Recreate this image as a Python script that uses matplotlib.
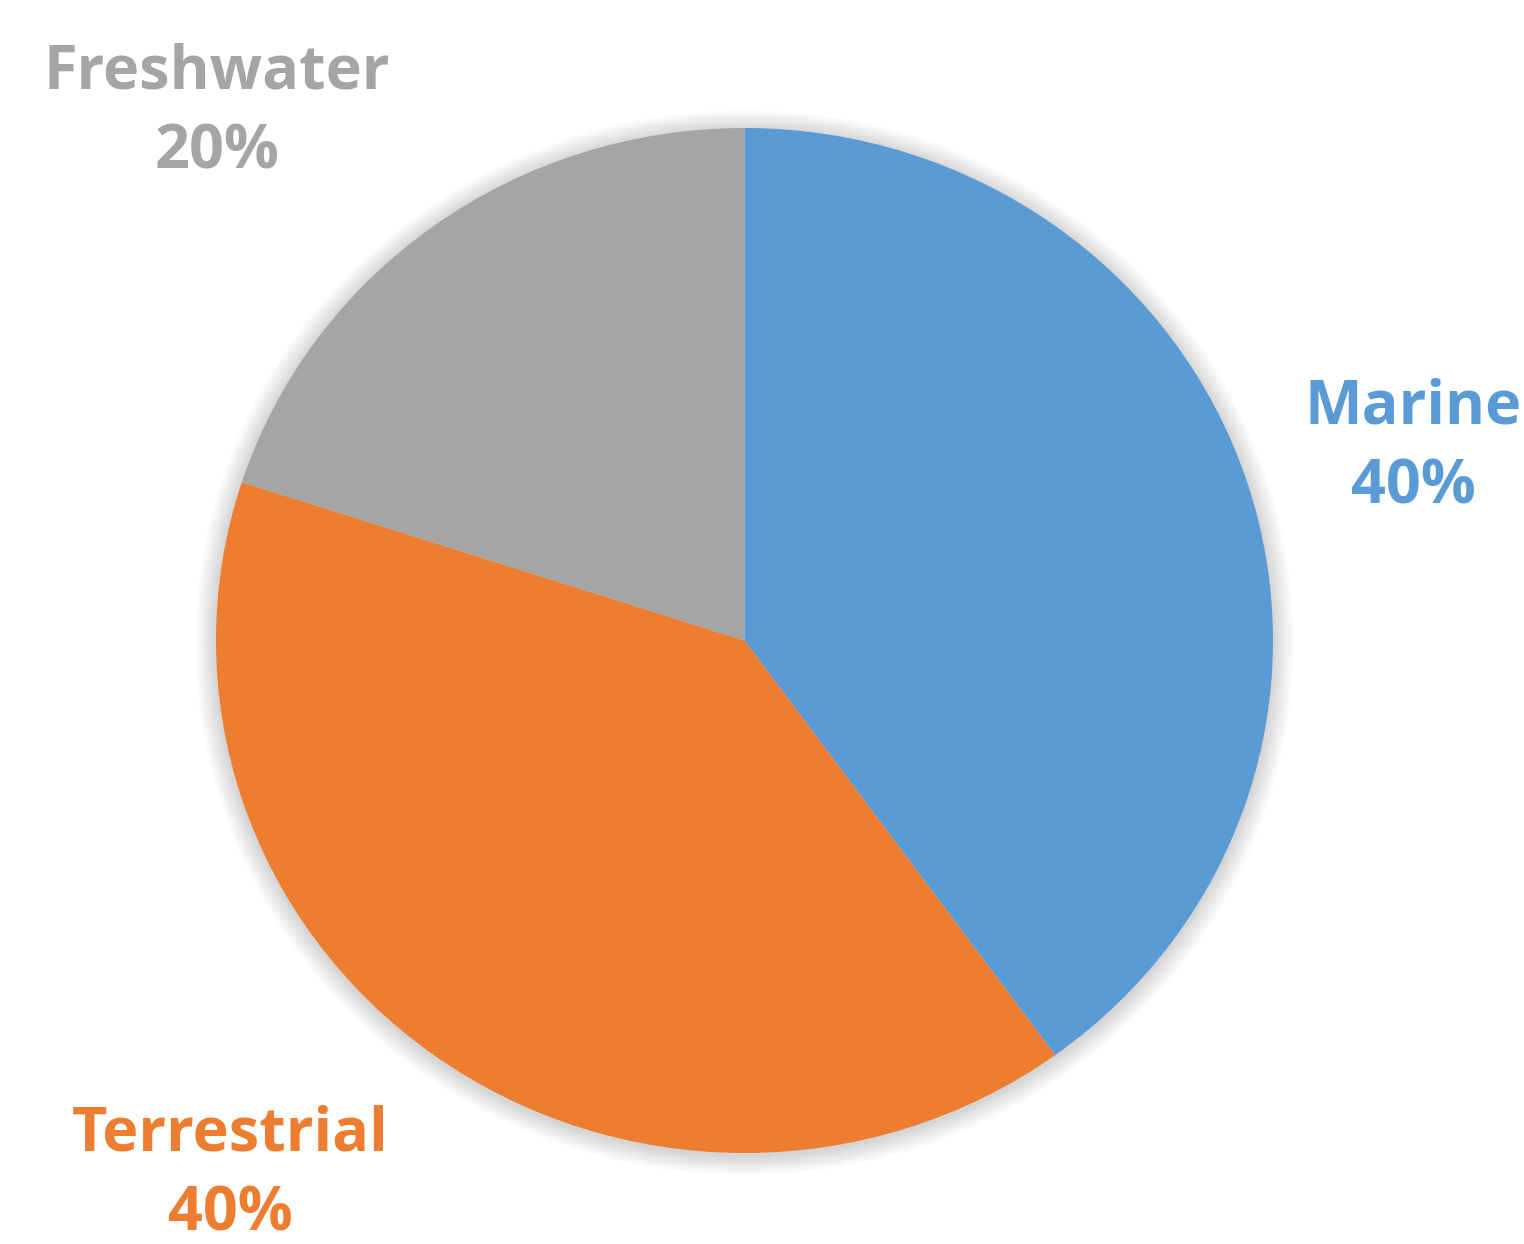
import matplotlib.pyplot as plt
from matplotlib.patches import Ellipse

# habitat shares
habitats = ['Marine', 'Terrestrial', 'Freshwater']
shares = [40, 40, 20]
colors = ['#5B9BD5', '#ED7D31', '#A5A5A5']

W, H = 1524, 1244
fig = plt.figure(figsize=(W / 100, H / 100), dpi=100)

# pie box in image pixels (slightly wider than tall, as in the picture)
left, top, right, bottom = 216, 128, 1273, 1153
ax = fig.add_axes([left / W, 1 - bottom / H, (right - left) / W, (bottom - top) / H])

# soft shadow behind the pie
for i in range(14):
    s = 1 + 0.0028 * (14 - i)
    ax.add_patch(Ellipse((0, -0.004), 2 * s, 2 * s, color='#000000', alpha=0.012,
                         lw=0, zorder=0, clip_on=False))

wedges, _ = ax.pie(shares, colors=colors, startangle=90, counterclock=False,
                   radius=1, wedgeprops=dict(linewidth=0, zorder=2))
ax.set_aspect('auto')
ax.set_xlim(-1, 1)
ax.set_ylim(-1, 1)
ax.axis('off')

# label positions (pixel centres from the picture)
label_pos = [(1413, 448), (230, 1175), (217, 113)]
for name, val, col, (lx, ly) in zip(habitats, shares, colors, label_pos):
    fig.text(lx / W, 1 - ly / H, f'{name}\n{val}%', ha='center', va='center',
             fontsize=44, fontweight='bold', color=col, family='Open Sans',
             linespacing=1.4)

fig.savefig('out.png', dpi=100)
